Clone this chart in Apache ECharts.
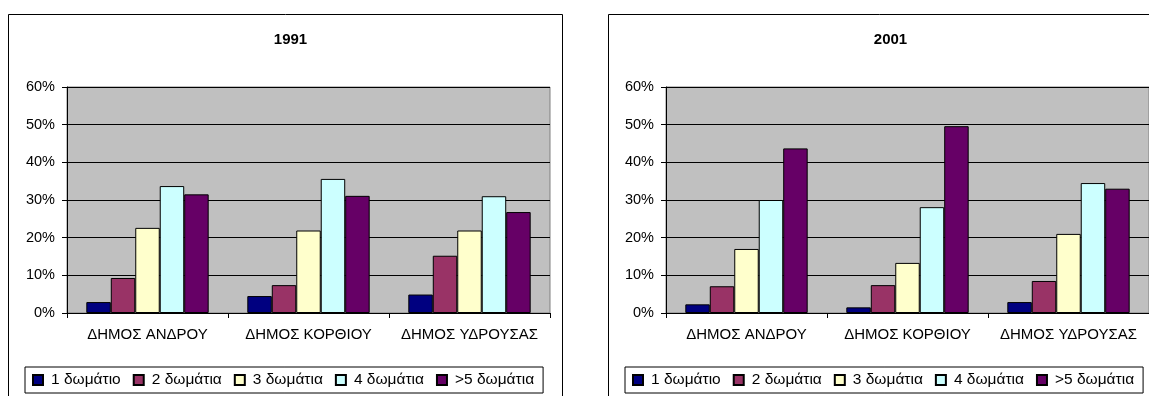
<!DOCTYPE html>
<html>
<head>
<meta charset="utf-8">
<script src="https://cdn.jsdelivr.net/npm/echarts@6/dist/echarts.min.js"></script>
<style>
  html, body { margin: 0; padding: 0; background: #fff; }
  #chart { width: 1149px; height: 396px; }
</style>
</head>
<body>
<div id="chart"></div>
<script>
// Households by number of rooms, per municipality (% of dwellings)
const categories = ['ΔΗΜΟΣ ΑΝΔΡΟΥ', 'ΔΗΜΟΣ ΚΟΡΘΙΟΥ', 'ΔΗΜΟΣ ΥΔΡΟΥΣΑΣ'];
const seriesNames = ['1 δωμάτιο', '2 δωμάτια', '3 δωμάτια', '4 δωμάτια', '>5 δωμάτια'];
const years = ['1991', '2001'];

// one row per room class, one value per municipality
const values1991 = [
  [2.9, 4.5, 4.9],
  [9.3, 7.4, 15.2],
  [22.6, 21.9, 21.9],
  [33.7, 35.6, 31.0],
  [31.5, 31.1, 26.8]
];
const values2001 = [
  [2.3, 1.5, 2.9],
  [7.1, 7.4, 8.5],
  [17.0, 13.3, 21.0],
  [30.0, 28.1, 34.5],
  [43.7, 49.6, 33.0]
];
const yTicks = [0, 10, 20, 30, 40, 50, 60];

const colors = ['#000080', '#993366', '#FFFFCC', '#CCFFFF', '#660066'];
const FONT = '"Liberation Sans", Arial, sans-serif';

const panels = [
  { frameX: 8.5, gridLeft: 67, data: values1991 },
  { frameX: 608.5, gridLeft: 666, data: values2001 }
];
const FRAME_W = 554;

const chart = echarts.init(document.getElementById('chart'), null, { renderer: 'canvas' });

const option = {
  animation: false,
  backgroundColor: '#fff',
  textStyle: { fontFamily: FONT, color: '#000' },
  graphic: panels.map(p => ({
    type: 'rect',
    z: -10,
    shape: { x: p.frameX, y: 14.5, width: FRAME_W, height: 400 },
    style: { fill: '#fff', stroke: '#000', lineWidth: 1 }
  })),
  title: panels.map((p, i) => ({
    text: years[i],
    left: p.frameX + FRAME_W / 2,
    textAlign: 'center',
    top: 27,
    textStyle: { fontFamily: FONT, fontSize: 15, fontWeight: 'bold', color: '#000' }
  })),
  legend: panels.map((p, i) => ({
    data: seriesNames,
    icon: 'rect',
    orient: 'horizontal',
    left: p.frameX + 16.5,
    top: 367,
    itemWidth: 10,
    itemHeight: 10,
    itemGap: 12,
    padding: [5, 9, 5, 7],
    borderColor: '#000',
    borderWidth: 1,
    backgroundColor: '#fff',
    selectedMode: false,
    textStyle: { fontFamily: FONT, fontSize: 15.5, color: '#000', padding: [0, 0, 0, 3] }
  })),
  grid: panels.map(p => ({
    left: p.gridLeft,
    top: 87,
    width: 483,
    height: 226,
    show: true,
    backgroundColor: '#C0C0C0',
    borderColor: '#808080',
    borderWidth: 1,
    containLabel: false
  })),
  xAxis: panels.map((p, i) => ({
    type: 'category',
    gridIndex: i,
    data: categories,
    boundaryGap: true,
    axisLine: { show: true, lineStyle: { color: '#000', width: 1 } },
    axisTick: { show: true, length: 5, inside: false, lineStyle: { color: '#000' } },
    axisLabel: { margin: 14, fontFamily: FONT, fontSize: 15, color: '#000', interval: 0 },
    splitLine: { show: false }
  })),
  yAxis: panels.map((p, i) => ({
    type: 'value',
    gridIndex: i,
    min: yTicks[0],
    max: yTicks[yTicks.length - 1],
    interval: yTicks[1] - yTicks[0],
    axisLine: { show: true, lineStyle: { color: '#000', width: 1 } },
    axisTick: { show: true, length: 5, inside: false, lineStyle: { color: '#000' } },
    axisLabel: { margin: 12, fontFamily: FONT, fontSize: 14.5, color: '#000', formatter: '{value}%' },
    splitLine: { show: true, lineStyle: { color: '#000', width: 1 } }
  })),
  series: []
};

panels.forEach((p, gi) => {
  seriesNames.forEach((name, si) => {
    option.series.push({
      type: 'bar',
      name: name,
      xAxisIndex: gi,
      yAxisIndex: gi,
      data: p.data[si],
      barGap: '0%',
      barCategoryGap: '24%',
      itemStyle: { color: colors[si], borderColor: '#000', borderWidth: 1 },
      emphasis: { disabled: true }
    });
  });
});

chart.setOption(option);
</script>
</body>
</html>
